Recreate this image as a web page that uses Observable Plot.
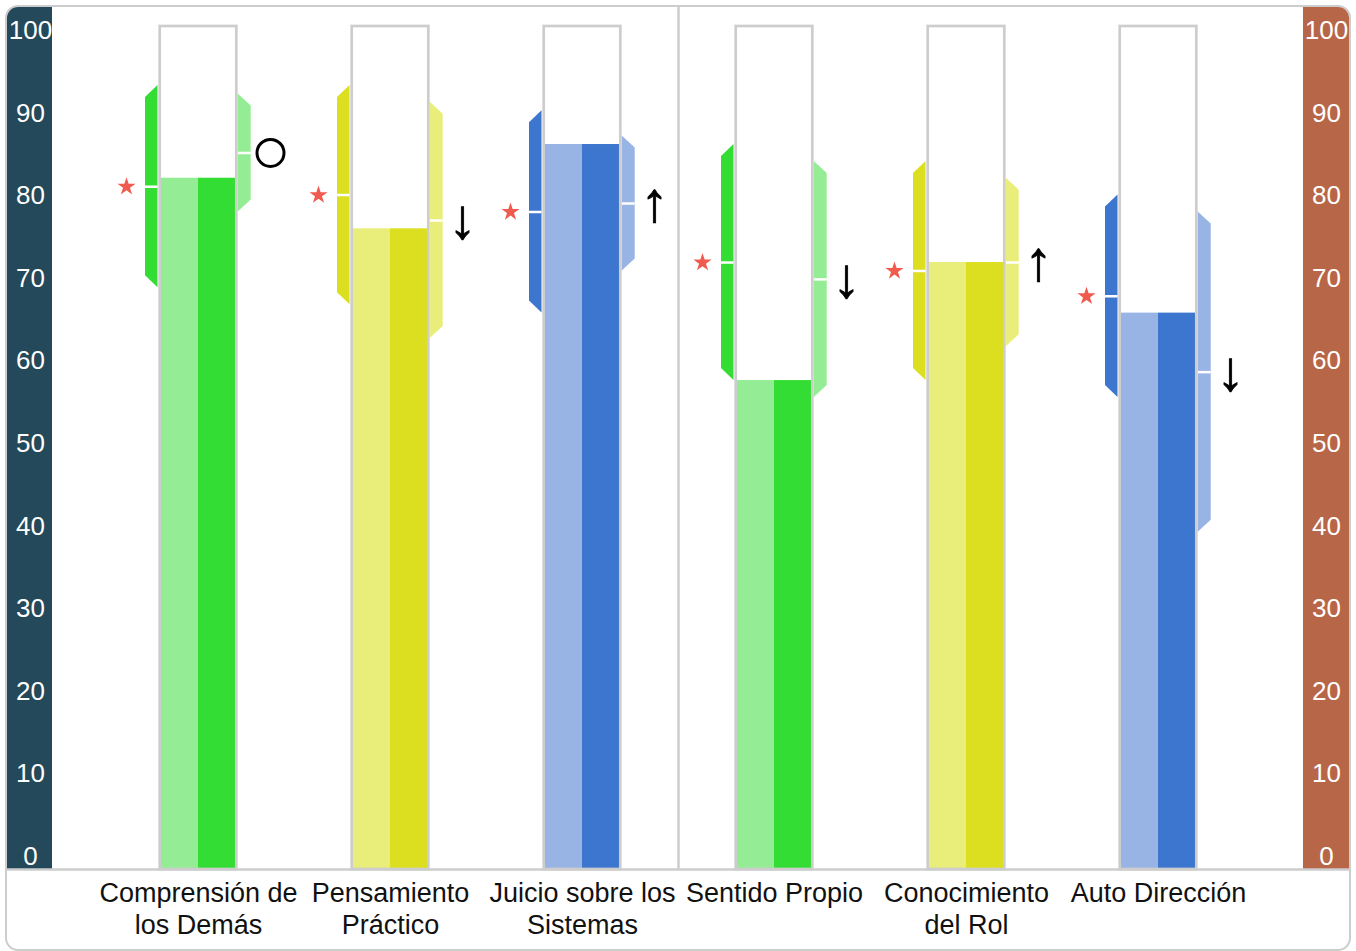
<!DOCTYPE html>
<html>
<head>
<meta charset="utf-8">
<script src="https://cdn.jsdelivr.net/npm/d3@7"></script>
<script src="https://cdn.jsdelivr.net/npm/@observablehq/plot@0.6"></script>
<style>
  html, body { margin: 0; padding: 0; background: #fff; }
  #frame {
    position: absolute; left: 5px; top: 5px; width: 1346px; height: 946px;
    box-sizing: border-box; border: 2.5px solid #cdcdcd; border-radius: 13px;
    overflow: hidden; background: #fff;
  }
  #chart { position: absolute; left: -7.5px; top: -7.5px; }
</style>
</head>
<body>
<div id="frame"><div id="chart"></div></div>
<script>
// ---------- data ----------
const categories = ["Comprensión de\nlos Demás", "Pensamiento\nPráctico", "Juicio sobre los\nSistemas", "Sentido Propio", "Conocimiento\ndel Rol", "Auto Dirección"];
const barValues  = [82, 76, 86, 58, 72, 66];
const leftMid    = [81, 80, 78, 72, 71, 68];
const leftLow    = [69, 67, 66, 58, 58, 56];
const leftHigh   = [93, 93, 90, 86, 84, 80];
const rightMid   = [85, 77, 79, 70, 72, 59];
const rightLow   = [78, 63, 71, 56, 62, 40];
const rightHigh  = [92, 91, 87, 84, 82, 78];
const trendSymbols = ["○", "↓", "↑", "↓", "↑", "↓"];
const tickLabels = [0, 10, 20, 30, 40, 50, 60, 70, 80, 90, 100];
const darkColors  = ["#33dd33", "#dbdf1f", "#3d76ce", "#33dd33", "#dbdf1f", "#3d76ce"];
const lightColors = ["#94ec94", "#e9ed79", "#97b4e4", "#94ec94", "#e9ed79", "#97b4e4"];

// ---------- layout ----------
const W = 1356, H = 951, mL = 52, mR = 53, mT = 26, mB = 82;
const firstCenterPx = 198, spacingPx = 192;
const u = px => px / spacingPx;                 // px -> x data units
const xDomain = [(mL - firstCenterPx) / spacingPx, (W - mR - firstCenterPx) / spacingPx];
const pxPerY = (H - mT - mB) / 100;
const chamfer = 12 / pxPerY;
const boxHalf = u(38.3), barHalf = u(37);
const lOuter = u(-53), lInner = u(-40.5), rInner = u(39.7), rOuter = u(52.7);
const symOff = u(72);
const bandL = [xDomain[0] - u(60), xDomain[0]];
const bandR = [xDomain[1], xDomain[1] + u(60)];
const labelY = v => 1.565 + 0.979 * v;

const idx = categories.map((_, i) => i);
const leftPts = idx.flatMap(i => [
  {i, x: i + lOuter, y1: leftLow[i] + chamfer, y2: leftHigh[i] - chamfer},
  {i, x: i + lInner, y1: leftLow[i], y2: leftHigh[i]}
]);
const rightPts = idx.flatMap(i => [
  {i, x: i + rInner, y1: rightLow[i], y2: rightHigh[i]},
  {i, x: i + rOuter, y1: rightLow[i] + chamfer, y2: rightHigh[i] - chamfer}
]);

const chart = Plot.plot({
  width: W, height: H,
  marginLeft: mL, marginRight: mR, marginTop: mT, marginBottom: mB,
  x: {type: "linear", domain: xDomain, axis: null},
  y: {domain: [0, 100], axis: null},
  color: {type: "identity"},
  style: {maxWidth: "none", background: "transparent", overflow: "visible", fontFamily: "'Liberation Sans', Arial, sans-serif"},
  marks: [
    // side bands
    Plot.rect([0], {x1: () => bandL[0], x2: () => bandL[1], y1: () => 0, y2: () => 110, fill: "#23495a"}),
    Plot.rect([0], {x1: () => bandR[0], x2: () => bandR[1], y1: () => 0, y2: () => 110, fill: "#b76648"}),
    // divider
    Plot.ruleX([2.5], {y1: 0, y2: 110, stroke: "#cdcdcd", strokeWidth: 2.5}),
    // bars
    Plot.rect(barValues, {x1: (d, i) => i - barHalf, x2: (d, i) => i, y1: () => 0, y2: d => d, fill: (d, i) => lightColors[i]}),
    Plot.rect(barValues, {x1: (d, i) => i, x2: (d, i) => i + barHalf, y1: () => 0, y2: d => d, fill: (d, i) => darkColors[i]}),
    // range shapes
    Plot.area(leftPts, {x1: "x", y1: "y1", y2: "y2", z: "i", fill: d => darkColors[d.i], curve: "linear"}),
    Plot.area(rightPts, {x1: "x", y1: "y1", y2: "y2", z: "i", fill: d => lightColors[d.i], curve: "linear"}),
    // white ticks
    Plot.ruleY(leftMid, {y: d => d, x1: (d, i) => i + lOuter, x2: (d, i) => i + lInner, stroke: "white", strokeWidth: 2.5}),
    Plot.ruleY(rightMid, {y: d => d, x1: (d, i) => i + rInner, x2: (d, i) => i + rOuter, stroke: "white", strokeWidth: 2.5}),
    // box outlines
    Plot.rect(barValues, {x1: (d, i) => i - boxHalf, x2: (d, i) => i + boxHalf, y1: () => 0, y2: () => 100, fill: "none", stroke: "#cdcdcd", strokeWidth: 2.7}),
    // stars
    Plot.dot(leftMid, {x: (d, i) => i - symOff, y: d => d, symbol: "star", r: 5.7, fill: "#f05a4f", stroke: "none"}),
    // trend symbols
    Plot.dot(rightMid, {filter: (d, i) => trendSymbols[i] === "○", x: (d, i) => i + symOff, y: d => d, r: 13.5, fill: "none", stroke: "black", strokeWidth: 3}),
    Plot.text(rightMid, {filter: (d, i) => trendSymbols[i] !== "○", x: (d, i) => i + symOff, y: d => d, text: (d, i) => trendSymbols[i], fontSize: 56, fill: "black", stroke: "black", strokeWidth: 0.8}),
    // bottom line
    Plot.ruleY([0], {x1: () => bandL[0], x2: () => bandR[1], stroke: "#cdcdcd", strokeWidth: 2.5}),
    // tick labels
    Plot.text(tickLabels, {x: () => xDomain[0] - u(22), y: d => labelY(d), text: d => String(d), fill: "white", fontSize: 26}),
    Plot.text(tickLabels, {x: () => xDomain[1] + u(23), y: d => labelY(d), text: d => String(d), fill: "white", fontSize: 26}),
    // category labels
    Plot.text(categories, {x: (d, i) => i, y: () => 0, text: d => d, lineAnchor: "top", dy: 10, fontSize: 27, lineHeight: 1.18, fill: "#111"})
  ]
});
document.getElementById("chart").appendChild(chart);
</script>
</body>
</html>
